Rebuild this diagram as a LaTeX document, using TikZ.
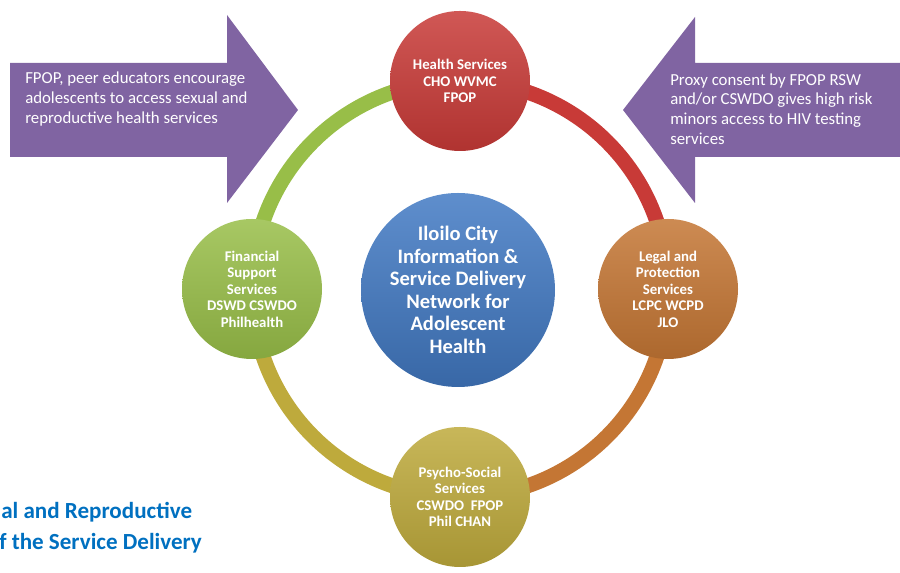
\documentclass[tikz,border=0pt]{standalone}
\usepackage{fontspec}
\setmainfont{Carlito}
\usepackage{tikz}
\usetikzlibrary{backgrounds}
\definecolor{hsred}{RGB}{200,58,55}
\definecolor{lgorange}{RGB}{196,118,52}
\definecolor{psolive}{RGB}{190,170,60}
\definecolor{fsgreen}{RGB}{152,190,72}
\definecolor{hubblue}{RGB}{66,122,196}
\definecolor{notepurple}{RGB}{128,100,162}
\definecolor{capblue}{RGB}{0,112,192}

\begin{document}
\begin{tikzpicture}[x=0.75pt, y=0.75pt,
    service/.style={circle, minimum size=105pt, inner sep=0pt, text=white, align=center,
        font=\bfseries\fontsize{11.1}{12.4}\selectfont, top color=#1!85!white, bottom color=#1!88!black},
    hub/.style={circle, minimum size=145.5pt, inner sep=0pt, text=white, align=center,
        font=\bfseries\fontsize{15.4}{16.9}\selectfont, top color=hubblue!85!white, bottom color=hubblue!85!black},
    ring/.style={line width=11.25pt, draw=#1},
    note/.style={text=white, align=left, anchor=west, inner sep=0pt, font=\fontsize{12.6}{14.8}\selectfont},
    caption/.style={text=capblue, anchor=west, inner sep=0pt, font=\bfseries\fontsize{17.3}{19}\selectfont}]
\useasboundingbox (0,0) rectangle (900,573);

% arrows
\fill[notepurple] (10,510) -- (227,510) -- (227,558) -- (298,463) -- (227,370) -- (227,416) -- (10,416) -- cycle;
\fill[notepurple] (905,510) -- (695,510) -- (695,556) -- (623,463) -- (695,370) -- (695,416) -- (905,416) -- cycle;
\node[note] (pushnote) at (25,474) {FPOP, peer educators encourage\\adolescents to access sexual and\\reproductive health services};
\node[note] (proxynote) at (670,464) {Proxy consent by FPOP RSW\\and/or CSWDO gives high risk\\minors access to HIV testing\\services};

% circles
\node[hub] (hub) at (458,283) {Iloilo City\\Information \&\\Service Delivery\\Network for\\Adolescent\\Health};
\node[service=hsred] (health) at (460,492) {Health Services\\CHO WVMC\\FPOP};
\node[service=lgorange] (legal) at (668,284) {Legal and\\Protection\\Services\\LCPC WCPD\\JLO};
\node[service=psolive] (psycho) at (460,76) {Psycho-Social\\Services\\CSWDO\ \ FPOP\\Phil CHAN};
\node[service=fsgreen] (fin) at (252,284) {Financial\\Support\\Services\\DSWD CSWDO\\Philhealth};

% ring
\begin{scope}[on background layer]
\draw[ring=hsred] (health.center) to[out=0,in=90] (legal.center);
\draw[ring=lgorange] (legal.center) to[out=-90,in=0] (psycho.center);
\draw[ring=psolive] (psycho.center) to[out=180,in=-90] (fin.center);
\draw[ring=fsgreen] (fin.center) to[out=90,in=180] (health.center);
\end{scope}

\node[caption] (capa) at (1,61) {al and Reproductive};
\node[caption] (capb) at (-1,30) {f the Service Delivery};
\end{tikzpicture}
\end{document}
